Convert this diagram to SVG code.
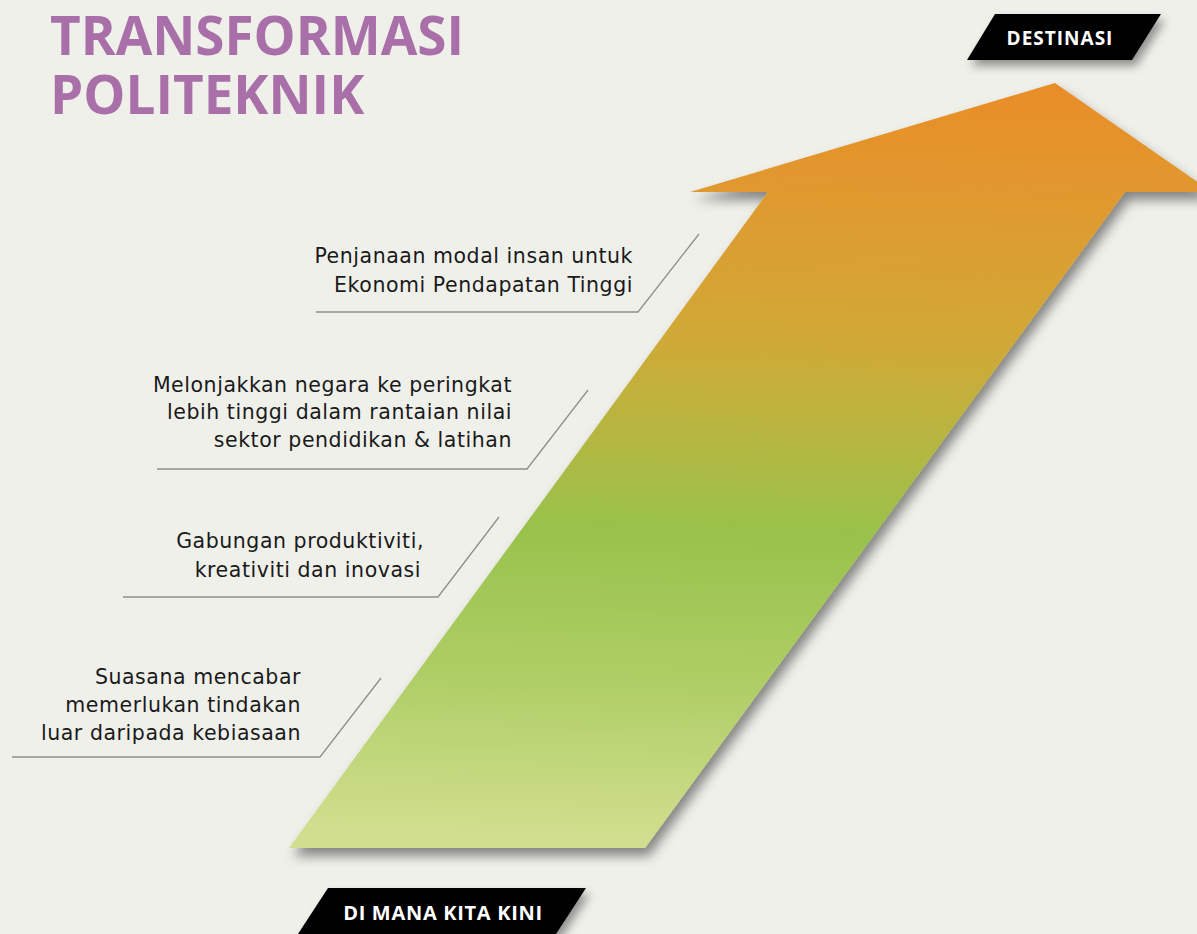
<svg xmlns="http://www.w3.org/2000/svg" width="1197" height="934" viewBox="0 0 1197 934">
  <defs>
    <linearGradient id="arrowGrad" gradientUnits="userSpaceOnUse" x1="1075" y1="83" x2="1050" y2="850">
      <stop offset="0" stop-color="#E98D28"/>
      <stop offset="0.14" stop-color="#E1982E"/>
      <stop offset="0.35" stop-color="#D0A937"/>
      <stop offset="0.47" stop-color="#B7B640"/>
      <stop offset="0.6" stop-color="#98C24B"/>
      <stop offset="0.8" stop-color="#AFCE66"/>
      <stop offset="1" stop-color="#D0DE8D"/>
    </linearGradient>
    <filter id="shadow" x="-20%" y="-20%" width="140%" height="140%">
      <feDropShadow dx="4" dy="8" stdDeviation="6" flood-color="#000" flood-opacity="0.45"/>
    </filter>
    <filter id="badgeShadow" x="-20%" y="-30%" width="140%" height="180%">
      <feDropShadow dx="4" dy="6" stdDeviation="5" flood-color="#000" flood-opacity="0.4"/>
    </filter>
  </defs>
  <style>
    .title { font-family: "Open Sans", "Liberation Sans", sans-serif; font-weight: 700; font-size: 53px; fill: #A96FA8; }
    .badge-text { font-family: "Open Sans", "Liberation Sans", sans-serif; font-weight: 700; fill: #FFFFFF; }
    .label { font-family: "DejaVu Sans", "Liberation Sans", sans-serif; font-size: 20.5px; letter-spacing: 0.55px; fill: #1A1A1A; text-anchor: end; }
    .leader { fill: none; stroke: #8E8E8E; stroke-width: 1.3; }
  </style>
  <rect x="0" y="0" width="1197" height="934" fill="#F0F0EB"/>

  <g id="title">
    <text class="title" x="50" y="55">TRANSFORMASI</text>
    <text class="title" x="50" y="114">POLITEKNIK</text>
  </g>

  <g id="arrow">
    <path d="M1055,83 L1212,192 L1125,192 L645,848 L289,848 L768,192 L690,192 Z" fill="url(#arrowGrad)" filter="url(#shadow)"/>
  </g>

  <g id="destinasi">
    <path d="M995,14 L1161,14 L1132,60 L967,60 Z" fill="#000" filter="url(#badgeShadow)"/>
    <text class="badge-text" x="1060" y="45" font-size="19" letter-spacing="1" text-anchor="middle">DESTINASI</text>
  </g>

  <g id="di-mana-kita-kini">
    <path d="M328,888 L586,888 L556,934 L298,934 Z" fill="#000" filter="url(#badgeShadow)"/>
    <text class="badge-text" x="443" y="920" font-size="20" letter-spacing="0.7" text-anchor="middle">DI MANA KITA KINI</text>
  </g>

  <g id="connectors">
    <polyline class="leader" points="316,312 638,312 699,234"/>
    <polyline class="leader" points="157,469 527,469 588,390"/>
    <polyline class="leader" points="123,597 438,597 499,517"/>
    <polyline class="leader" points="12,757 320,757 381,678"/>
  </g>

  <g id="label-1">
    <text class="label" x="633" y="263">Penjanaan modal insan untuk</text>
    <text class="label" x="633" y="292">Ekonomi Pendapatan Tinggi</text>
  </g>
  <g id="label-2">
    <text class="label" x="512" y="392">Melonjakkan negara ke peringkat</text>
    <text class="label" x="512" y="419">lebih tinggi dalam rantaian nilai</text>
    <text class="label" x="512" y="447">sektor pendidikan &amp; latihan</text>
  </g>
  <g id="label-3">
    <text class="label" x="424" y="548">Gabungan produktiviti,</text>
    <text class="label" x="421" y="577">kreativiti dan inovasi</text>
  </g>
  <g id="label-4">
    <text class="label" x="301" y="684">Suasana mencabar</text>
    <text class="label" x="301" y="712">memerlukan tindakan</text>
    <text class="label" x="301" y="740">luar daripada kebiasaan</text>
  </g>
</svg>
